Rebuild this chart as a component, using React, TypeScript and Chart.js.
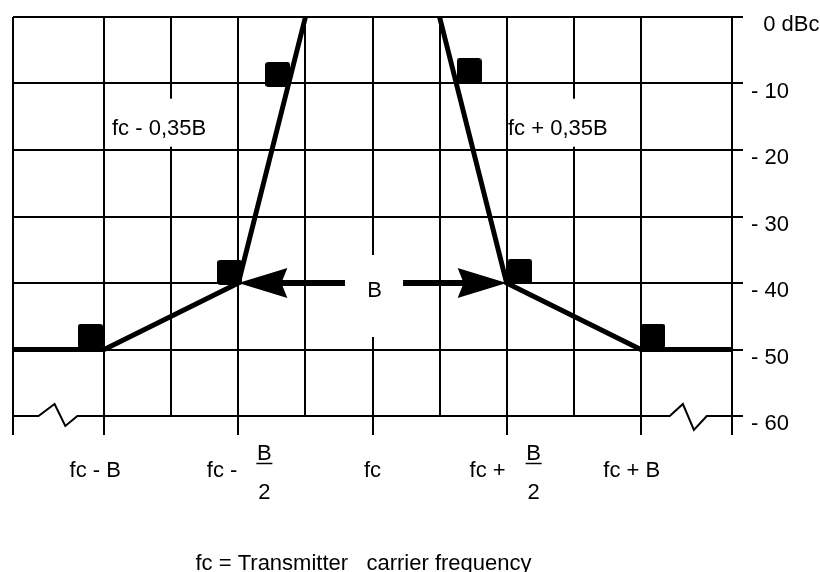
import React, { useEffect, useRef } from "react";
import { Chart, registerables } from "chart.js";

Chart.register(...registerables);

// ---- data ----
// x in units of B relative to fc, y in dBc
const X_MIN = -1.34;
const X_MAX = 1.34;
const xGridValues = [-1.34, -1, -0.75, -0.5, -0.25, 0, 0.25, 0.5, 0.75, 1, 1.34];
const xMajorValues = [-1.34, -1, -0.5, 0, 0.5, 1, 1.34];
const yTickValues = [0, -10, -20, -30, -40, -50, -60];

const lowerMaskX = [-1.34, -1, -0.5, -0.25];
const lowerMaskY = [-50, -50, -40, 0];
const upperMaskX = [0.25, 0.5, 1, 1.34];
const upperMaskY = [0, -40, -50, -50];

const markerX = [-1.052, -0.532, -0.353, 0.36, 0.549, 1.045];
const markerY = [-48, -38.4, -8.65, -8.1, -38.3, -48];

// bottom axis line with break marks
const breakLineX = [-1.34, -1.245, -1.185, -1.145, -1.1, 1.108, 1.157, 1.198, 1.246, 1.34];
const breakLineY = [-60, -60, -58.2, -61.5, -60, -60, -58.2, -62.1, -60, -60];

const innerLabels = [
  { text: "fc - 0,35B", x: -0.971, y: -16.8 },
  { text: "fc + 0,35B", x: 0.505, y: -16.8 },
];
const arrowTips = [-0.5, 0.5];
const arrowTails = [-0.1025, 0.114];
const arrowLevel = -40;
const bandLabel = "B";
const footer = "fc = Transmitter   carrier frequency";

const FONT = '22px "Liberation Sans", Arial, sans-serif';

const toPts = (xs: number[], ys: number[]) => xs.map((x, i) => ({ x, y: ys[i] }));

function makeMarker(): HTMLCanvasElement {
  const c = document.createElement("canvas");
  c.width = 25;
  c.height = 25;
  const g = c.getContext("2d")!;
  g.fillStyle = "#000";
  g.beginPath();
  (g as any).roundRect ? (g as any).roundRect(0, 0, 25, 25, 3) : g.rect(0, 0, 25, 25);
  g.fill();
  return c;
}

const annotPlugin = {
  id: "annot",
  beforeDatasetsDraw(chart: any) {
    const { ctx, scales } = chart;
    const x = scales.x, y = scales.y;
    ctx.save();
    ctx.font = FONT;
    ctx.fillStyle = "#fff";
    for (const l of innerLabels) {
      const px = x.getPixelForValue(l.x);
      const py = y.getPixelForValue(l.y);
      const w = ctx.measureText(l.text).width;
      ctx.fillRect(px + 1, py - 30, w - 2, 48);
    }
    const bl = x.getPixelForValue(arrowTails[0]);
    const br = x.getPixelForValue(arrowTails[1]);
    const by = y.getPixelForValue(arrowLevel);
    ctx.fillRect(bl, by - 28, br - bl, 82);
    ctx.restore();
  },
  afterDatasetsDraw(chart: any) {
    const { ctx, scales, chartArea } = chart;
    const x = scales.x, y = scales.y;
    ctx.save();
    ctx.fillStyle = "#000";
    ctx.strokeStyle = "#000";
    ctx.font = FONT;
    ctx.textBaseline = "middle";

    // arrows
    const ay = y.getPixelForValue(arrowLevel);
    for (let i = 0; i < arrowTips.length; i++) {
      const tip = x.getPixelForValue(arrowTips[i]);
      const tail = x.getPixelForValue(arrowTails[i]);
      const dir = Math.sign(tail - tip);
      const headLen = 49, half = 15, notch = 6;
      ctx.beginPath();
      ctx.moveTo(tip, ay);
      ctx.lineTo(tip + dir * headLen, ay - half);
      ctx.lineTo(tip + dir * (headLen - notch), ay);
      ctx.lineTo(tip + dir * headLen, ay + half);
      ctx.closePath();
      ctx.fill();
      const s0 = tip + dir * (headLen - notch - 1);
      ctx.fillRect(Math.min(s0, tail), ay - 3, Math.abs(tail - s0), 6);
    }
    ctx.textAlign = "center";
    ctx.fillText(bandLabel, x.getPixelForValue(0) + 2, ay + 8);

    // inner labels
    ctx.textAlign = "left";
    for (const l of innerLabels) {
      ctx.fillText(l.text, x.getPixelForValue(l.x), y.getPixelForValue(l.y));
    }

    // x labels
    const b = chartArea.bottom;
    const ly = b + 55;
    ctx.textAlign = "center";
    ctx.fillText("fc - B", x.getPixelForValue(-1) - 9, ly);
    ctx.fillText("fc", x.getPixelForValue(0), ly);
    ctx.fillText("fc + B", x.getPixelForValue(1) - 9, ly);
    const fracs = [
      { v: -0.5, pre: "fc -", off: 26 },
      { v: 0.5, pre: "fc +", off: 27 },
    ];
    for (const f of fracs) {
      const px = x.getPixelForValue(f.v);
      ctx.textAlign = "right";
      ctx.fillText(f.pre, px - 1, ly);
      ctx.textAlign = "center";
      ctx.fillText("B", px + f.off, b + 38);
      ctx.fillText("2", px + f.off, b + 77);
      ctx.lineWidth = 1.5;
      ctx.beginPath();
      ctx.moveTo(px + f.off - 8, b + 47.5);
      ctx.lineTo(px + f.off + 8, b + 47.5);
      ctx.stroke();
    }

    // footer
    ctx.textAlign = "center";
    ctx.fillText(footer, x.getPixelForValue(0) - 9, 564);
    ctx.restore();
  },
};

export default function App() {
  const ref = useRef<HTMLCanvasElement | null>(null);
  useEffect(() => {
    document.body.style.margin = "0";
    const canvas = ref.current;
    if (!canvas) return;
    const lineDs = (data: any[], width: number) => ({
      type: "line" as const,
      data,
      borderColor: "#000",
      backgroundColor: "#000",
      borderWidth: width,
      pointRadius: 0,
      fill: false,
      tension: 0,
      clip: false as any,
    });
    const marker = makeMarker();
    const chart = new Chart(canvas, {
      type: "scatter",
      data: {
        datasets: [
          lineDs(toPts(breakLineX, breakLineY), 2),
          lineDs(toPts(lowerMaskX, lowerMaskY), 5),
          lineDs(toPts(upperMaskX, upperMaskY), 5),
          {
            type: "scatter",
            data: toPts(markerX, markerY),
            pointStyle: marker,
            pointRadius: 13,
            pointHoverRadius: 13,
            clip: false as any,
          } as any,
        ],
      },
      options: {
        responsive: false,
        animation: false,
        events: [],
        layout: { autoPadding: false, padding: { left: 13, top: 17, right: 0, bottom: 137 } },
        plugins: { legend: { display: false }, tooltip: { enabled: false } },
        scales: {
          x: {
            type: "linear",
            min: X_MIN,
            max: X_MAX,
            position: "bottom",
            afterBuildTicks: (s: any) => {
              s.ticks = xGridValues.map((v) => ({ value: v }));
            },
            afterFit: (s: any) => {
              s.paddingLeft = 0;
              s.paddingRight = 0;
            },
            ticks: { display: false },
            border: { display: false },
            grid: {
              color: "#000",
              lineWidth: 2,
              tickLength: 19,
              tickWidth: 2,
              tickColor: (c: any) =>
                c.tick && xMajorValues.includes(c.tick.value) ? "#000" : "rgba(0,0,0,0)",
            },
          },
          y: {
            type: "linear",
            min: -60,
            max: 0,
            position: "right",
            afterBuildTicks: (s: any) => {
              s.ticks = yTickValues.map((v) => ({ value: v }));
            },
            afterFit: (s: any) => {
              s.width = 88;
              s.paddingTop = 0;
              s.paddingBottom = 0;
            },
            ticks: {
              color: "#000",
              font: { family: '"Liberation Sans", Arial, sans-serif', size: 22 },
              padding: 8,
              labelOffset: 8,
              callback: (v: any) => (v === 0 ? "  0 dBc" : "- " + Math.abs(v)),
            },
            border: { display: false },
            grid: {
              color: (c: any) => (c.tick && c.tick.value === -60 ? "rgba(0,0,0,0)" : "#000"),
              tickColor: "#000",
              lineWidth: 2,
              tickWidth: 2,
              tickLength: 11,
            },
          },
        },
      },
      plugins: [annotPlugin],
    } as any);
    return () => chart.destroy();
  }, []);
  return (
    <div style={{ width: 820, height: 572, background: "#fff" }}>
      <canvas ref={ref} width={820} height={572} style={{ display: "block" }} />
    </div>
  );
}
